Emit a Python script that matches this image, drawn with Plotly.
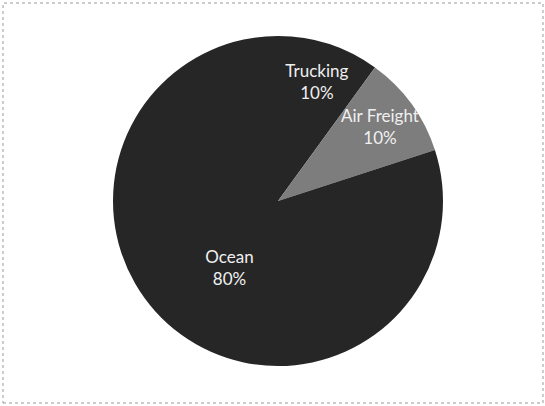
import plotly.graph_objects as go

labels = ["Trucking", "Air Freight", "Ocean"]
values = [10, 10, 80]
colors = ["#262626", "#7d7d7d", "#262626"]

W, H = 545, 406
cx, cy, r = 278, 201, 165

fig = go.Figure(go.Pie(
    labels=labels,
    values=values,
    sort=False,
    direction="clockwise",
    rotation=0,
    marker=dict(colors=colors, line=dict(width=0)),
    texttemplate="%{label}<br>%{percent:.0%}",
    textposition="inside",
    insidetextorientation="horizontal",
    textfont=dict(family="Lato, 'Open Sans', sans-serif", size=17, color="#f0f0f0"),
    domain=dict(x=[(cx - r) / W, (cx + r) / W], y=[(H - cy - r) / H, (H - cy + r) / H]),
    showlegend=False,
    hoverinfo="label+percent",
))

fig.update_layout(
    width=W, height=H,
    margin=dict(l=0, r=0, t=0, b=0),
    paper_bgcolor="white",
    plot_bgcolor="white",
    uniformtext=dict(minsize=17, mode="show"),
    shapes=[dict(type="rect", xref="paper", yref="paper",
                 x0=3 / W, x1=543 / W, y0=3 / H, y1=403 / H,
                 line=dict(color="#999999", width=1, dash="dot"))],
)

fig.write_html("out.html",
               config={"displayModeBar": False},
               post_script="document.body.style.margin='0';document.body.style.overflow='hidden';")
